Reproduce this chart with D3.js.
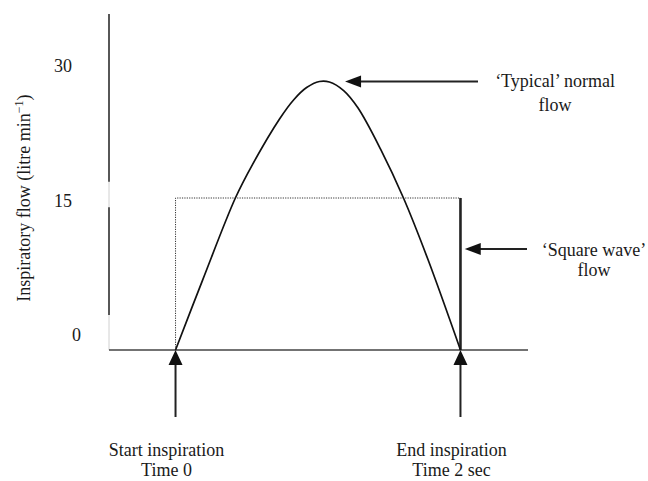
<!DOCTYPE html>
<html>
<head>
<meta charset="utf-8">
<script src="https://cdn.jsdelivr.net/npm/d3@7"></script>
<style>
  body { margin: 0; background: #fff; }
  text { font-family: "Liberation Serif", "Times New Roman", serif; fill: #1a1a1a; }
</style>
</head>
<body>
<script>
var width = 648,
    height = 481;

// typical normal flow (time in sec, flow in litre/min)
var normalTime = [0, 0.19, 0.42, 0.54, 0.73, 0.83, 0.92, 1.01, 1.08, 1.18, 1.28, 1.44, 1.60, 1.77, 2];
var normalFlow = [0, 6.9, 15, 18.3, 22.8, 24.7, 25.9, 26.5, 26.45, 25.6, 23.9, 19.8, 15, 9.0, 0];

// square wave flow
var squareTime = [0, 0, 2];
var squareFlow = [0, 15, 15];
var squareEnd = [[2, 15], [2, 0]];

var yTicks = [0, 15, 30];
var eventTimes = [0, 2];
var eventLabels = [["Start inspiration", "Time 0"], ["End inspiration", "Time 2 sec"]];

var svg = d3.select('body').append('svg')
    .attr('width', width)
    .attr('height', height);

var x = d3.scaleLinear().domain([-0.467, 2.474]).range([109, 528]);
var y = d3.scaleLinear().domain([0, 33.16]).range([350, 14]);
// tick labels sit a little off the data scale in the original
var yLabel = d3.scaleLinear().domain([0, 30]).range([341, 72]);

// y axis line (broken / faint in places like the source scan)
svg.append('line')
    .attr('x1', x(-0.467)).attr('x2', x(-0.467))
    .attr('y1', y(33.16)).attr('y2', y(0))
    .attr('stroke', '#d0d0d0').attr('stroke-width', 1);
[[33.16, 16.6], [14.1, 3.45]].forEach(function (s) {
    svg.append('line')
        .attr('x1', x(-0.467)).attr('x2', x(-0.467))
        .attr('y1', y(s[0])).attr('y2', y(s[1]))
        .attr('stroke', '#333').attr('stroke-width', 1.6);
});

// x axis line
svg.append('line')
    .attr('x1', x(-0.467)).attr('x2', x(2.474))
    .attr('y1', y(0)).attr('y2', y(0))
    .attr('stroke', '#444').attr('stroke-width', 1.6);

// tick labels
svg.selectAll('.ytick').data(yTicks).enter().append('text')
    .attr('class', 'ytick')
    .attr('x', 72)
    .attr('y', function (d) { return yLabel(d); })
    .attr('text-anchor', function (d) { return d === 0 ? 'start' : 'end'; })
    .attr('font-size', 18)
    .text(function (d) { return d; });

// y title
var title = svg.append('text')
    .attr('transform', 'translate(30,198) rotate(-90)')
    .attr('text-anchor', 'middle')
    .attr('font-size', 18);
title.append('tspan').text('Inspiratory flow (litre min');
title.append('tspan').attr('font-size', 12).attr('dy', -7).text('\u22121');
title.append('tspan').attr('dy', 7).text(')');

// square wave
var sqLine = d3.line()
    .x(function (d, i) { return x(squareTime[i]); })
    .y(function (d, i) { return y(squareFlow[i]); });
svg.append('path')
    .attr('d', sqLine(squareTime))
    .attr('fill', 'none')
    .attr('stroke', '#333')
    .attr('stroke-width', 1)
    .attr('stroke-dasharray', '1.2,1.2');
svg.append('path')
    .attr('d', d3.line().x(function (d) { return x(d[0]); }).y(function (d) { return y(d[1]); })(squareEnd))
    .attr('fill', 'none')
    .attr('stroke', '#222')
    .attr('stroke-width', 2.6);

// typical normal curve
var curve = d3.line()
    .x(function (d, i) { return x(normalTime[i]); })
    .y(function (d, i) { return y(normalFlow[i]); })
    .curve(d3.curveCatmullRom.alpha(0.5));
svg.append('path')
    .attr('d', curve(normalTime))
    .attr('fill', 'none')
    .attr('stroke', '#111')
    .attr('stroke-width', 1.7);

// arrowheads
function leftArrow(tipX, tipY, tailX) {
    svg.append('line')
        .attr('x1', tailX).attr('x2', tipX + 10)
        .attr('y1', tipY).attr('y2', tipY)
        .attr('stroke', '#222').attr('stroke-width', 1.8);
    svg.append('path')
        .attr('d', 'M' + tipX + ',' + tipY + 'L' + (tipX + 16) + ',' + (tipY - 6) +
              'L' + (tipX + 16) + ',' + (tipY + 6) + 'Z')
        .attr('fill', '#111');
}

// event arrows (pointing up at axis)
eventTimes.forEach(function (t, i) {
    var tx = x(t), ty = y(0);
    svg.append('line')
        .attr('x1', tx).attr('x2', tx)
        .attr('y1', ty + 67).attr('y2', ty + 12)
        .attr('stroke', '#222').attr('stroke-width', 2);
    svg.append('path')
        .attr('d', 'M' + tx + ',' + ty + 'L' + (tx - 7) + ',' + (ty + 15) +
              'L' + (tx + 7) + ',' + (ty + 15) + 'Z')
        .attr('fill', '#111');
    eventLabels[i].forEach(function (s, j) {
        svg.append('text')
            .attr('x', tx - 9)
            .attr('y', ty + 106 + j * 20)
            .attr('text-anchor', 'middle')
            .attr('font-size', 18)
            .text(s);
    });
});

// annotations
leftArrow(x(1.19), y(26.5), x(2.123));
leftArrow(x(2.03), y(9.97), x(2.467));

svg.append('text').attr('x', x(2.664)).attr('y', 87).attr('text-anchor', 'middle')
    .attr('font-size', 18).text('\u2018Typical\u2019 normal');
svg.append('text').attr('x', x(2.664)).attr('y', 111).attr('text-anchor', 'middle')
    .attr('font-size', 18).text('flow');
svg.append('text').attr('x', x(2.937)).attr('y', 256).attr('text-anchor', 'middle')
    .attr('font-size', 18).text('\u2018Square wave\u2019');
svg.append('text').attr('x', x(2.937)).attr('y', 276).attr('text-anchor', 'middle')
    .attr('font-size', 18).text('flow');
</script>
</body>
</html>
